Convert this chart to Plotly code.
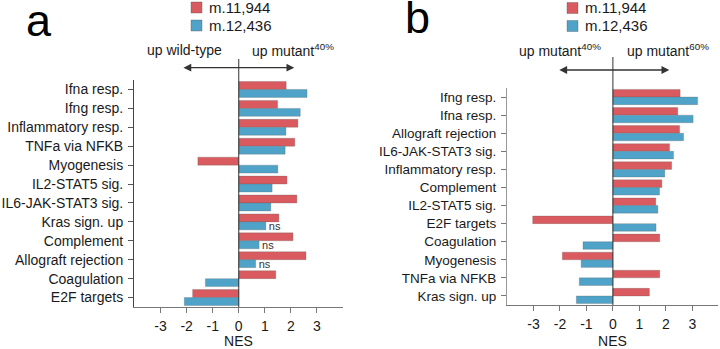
import plotly.graph_objects as go

# ---- data ----
cats_a = ["Ifna resp.", "Ifng resp.", "Inflammatory resp.", "TNFa via NFKB", "Myogenesis",
          "IL2-STAT5 sig.", "IL6-JAK-STAT3 sig.", "Kras sign. up", "Complement",
          "Allograft rejection", "Coagulation", "E2F targets"]
a_m11944 = [1.82, 1.49, 2.27, 2.15, -1.57, 1.85, 2.23, 1.54, 2.08, 2.58, 1.42, -1.77]
a_m12436 = [2.62, 2.36, 1.81, 1.78, 1.50, 1.28, 1.23, 1.04, 0.78, 0.65, -1.28, -2.09]
a_ns = ["", "", "", "", "", "", "", "ns", "ns", "ns", "", ""]

cats_b = ["Ifng resp.", "Ifna resp.", "Allograft rejection", "IL6-JAK-STAT3 sig.",
          "Inflammatory resp.", "Complement", "IL2-STAT5 sig.", "E2F targets",
          "Coagulation", "Myogenesis", "TNFa via NFKB", "Kras sign. up"]
b_m11944 = [2.54, 2.45, 2.52, 2.14, 2.22, 1.85, 1.62, -3.03, 1.77, -1.91, 1.77, 1.38]
b_m12436 = [3.20, 3.03, 2.67, 2.29, 1.96, 1.76, 1.70, 1.63, -1.13, -1.20, -1.27, -1.38]

x_ticks = [-3, -2, -1, 0, 1, 2, 3]
x_ticktext = ["-3", "-2", "-1", "0", "1", "2", "3"]
series_names = ["m.11,944", "m.12,436"]

RED = "#d95b5f"
BLUE = "#4fa3c8"
FONT = "Liberation Sans, Arial, sans-serif"
W, H = 720, 349

def px_x(p):
    return p / W

def px_y(p):
    return (H - p) / H

fig = go.Figure()
edge = dict(color="rgba(90,90,90,0.45)", width=0.6)

# panel a
fig.add_trace(go.Bar(y=cats_a, x=a_m11944, orientation="h", name=series_names[0],
                     marker=dict(color=RED, line=edge), xaxis="x", yaxis="y",
                     offsetgroup="r"))
sig_y = [c for c, n in zip(cats_a, a_ns) if not n]
sig_x = [v for v, n in zip(a_m12436, a_ns) if not n]
ns_y = [c for c, n in zip(cats_a, a_ns) if n]
ns_x = [v for v, n in zip(a_m12436, a_ns) if n]
ns_t = [n for n in a_ns if n]
fig.add_trace(go.Bar(y=sig_y, x=sig_x, orientation="h", name=series_names[1],
                     marker=dict(color=BLUE, line=edge), xaxis="x", yaxis="y",
                     offsetgroup="b"))
fig.add_trace(go.Bar(y=ns_y, x=ns_x, orientation="h", name=series_names[1],
                     marker=dict(color=BLUE, line=edge), xaxis="x", yaxis="y",
                     offsetgroup="b", text=ns_t, textposition="outside",
                     constraintext="none",
                     textfont=dict(size=11, color="#333", family=FONT),
                     cliponaxis=False))
# panel b
fig.add_trace(go.Bar(y=cats_b, x=b_m11944, orientation="h", name=series_names[0],
                     marker=dict(color=RED, line=edge), xaxis="x2", yaxis="y2",
                     offsetgroup="r"))
fig.add_trace(go.Bar(y=cats_b, x=b_m12436, orientation="h", name=series_names[1],
                     marker=dict(color=BLUE, line=edge), xaxis="x2", yaxis="y2",
                     offsetgroup="b"))

tickfont = dict(family=FONT, size=14, color="#1a1a1a")

fig.update_layout(
    width=W, height=H,
    margin=dict(l=0, r=0, t=0, b=0),
    paper_bgcolor="white", plot_bgcolor="white",
    barmode="group", bargap=0.16, bargroupgap=0,
    showlegend=False,
    font=dict(family=FONT, size=14, color="#1a1a1a"),
    xaxis=dict(domain=[px_x(134), px_x(343)], range=[-4.02, 4.0],
               tickvals=x_ticks, ticktext=x_ticktext,
               showgrid=False, zeroline=False, showline=True, linecolor="#777",
               ticks="outside", ticklen=5, tickcolor="#777", tickfont=tickfont,
               ticklabelstandoff=1,
               anchor="y", automargin=False,
               title=dict(text="NES", font=dict(family=FONT, size=14), standoff=10)),
    yaxis=dict(domain=[px_y(307), px_y(80)], autorange="reversed", type="category",
               categoryorder="array", categoryarray=cats_a,
               showgrid=False, zeroline=False, showline=True, linecolor="#444",
               ticks="outside", ticklen=5, tickcolor="#555", tickfont=tickfont,
               anchor="x", ticklabelstandoff=2, automargin=False),
    xaxis2=dict(domain=[px_x(507), px_x(718)], range=[-4.0, 3.97],
                tickvals=x_ticks, ticktext=x_ticktext,
                showgrid=False, zeroline=False, showline=True, linecolor="#777",
                ticks="outside", ticklen=5, tickcolor="#777", tickfont=tickfont,
                ticklabelstandoff=1,
                anchor="y2", automargin=False,
                title=dict(text="NES", font=dict(family=FONT, size=14), standoff=10)),
    yaxis2=dict(domain=[px_y(305), px_y(88)], autorange="reversed", type="category",
                categoryorder="array", categoryarray=cats_b,
                showgrid=False, zeroline=False, showline=True, linecolor="#999",
                ticks="outside", ticklen=5, tickcolor="#777",
                tickfont=dict(family=FONT, size=13.5, color="#1a1a1a"),
                anchor="x2", ticklabelstandoff=2, automargin=False),
)

# legends (swatch + label) for both panels
leg_font = dict(family=FONT, size=15, color="#1a1a1a")
for lx, ys in [(191, (7.5, 25.5)), (567, (8, 26))]:
    for name, col, yy in zip(series_names, (RED, BLUE), ys):
        fig.add_shape(type="rect", xref="paper", yref="paper",
                      x0=px_x(lx), x1=px_x(lx + 11), y0=px_y(yy + 5.5), y1=px_y(yy - 5.5),
                      fillcolor=col, line=dict(color="rgba(80,80,80,0.6)", width=0.6))
        fig.add_annotation(xref="paper", yref="paper", x=px_x(lx + 16), y=px_y(yy),
                           text=name, showarrow=False, xanchor="left", yanchor="middle",
                           font=leg_font)

# zero lines extending above the plot
fig.add_shape(type="line", xref="x", yref="paper", x0=0, x1=0,
              y0=px_y(307), y1=px_y(59), line=dict(color="#333", width=1))
fig.add_shape(type="line", xref="x2", yref="paper", x0=0, x1=0,
              y0=px_y(305), y1=px_y(57), line=dict(color="#333", width=1))

# double-headed arrows
for xr, x0, x1, yy in [("x", -2.18, 2.13, 67.7), ("x2", -2.08, 2.13, 70)]:
    fig.add_annotation(xref=xr, yref="paper", x=x1, y=px_y(yy),
                       axref=xr, ayref="pixel", ax=x0, ay=0, text="",
                       showarrow=True, arrowhead=2, arrowsize=1.2, arrowwidth=1.3,
                       arrowside="end+start", arrowcolor="#333")

ann_font = dict(family=FONT, size=14, color="#1a1a1a")
for xr, xv, txt, anc in [("x", -0.55, "up wild-type", "right"),
                         ("x", 0.42, "up mutant<sup>40%</sup>", "left"),
                         ("x2", -0.38, "up mutant<sup>40%</sup>", "right"),
                         ("x2", 0.45, "up mutant<sup>60%</sup>", "left")]:
    fig.add_annotation(xref=xr, yref="paper", x=xv, y=px_y(50), text=txt,
                       showarrow=False, xanchor=anc, yanchor="middle", font=ann_font)

# panel letters
fig.add_annotation(xref="paper", yref="paper", x=px_x(24), y=px_y(21), text="a",
                   showarrow=False, xanchor="left", yanchor="middle",
                   font=dict(family=FONT, size=45, color="#000"))
fig.add_annotation(xref="paper", yref="paper", x=px_x(403), y=px_y(17), text="b",
                   showarrow=False, xanchor="left", yanchor="middle",
                   font=dict(family=FONT, size=45, color="#000"))

fig.write_html("out.html", config={"displayModeBar": False},
               post_script="document.body.style.margin='0';")
